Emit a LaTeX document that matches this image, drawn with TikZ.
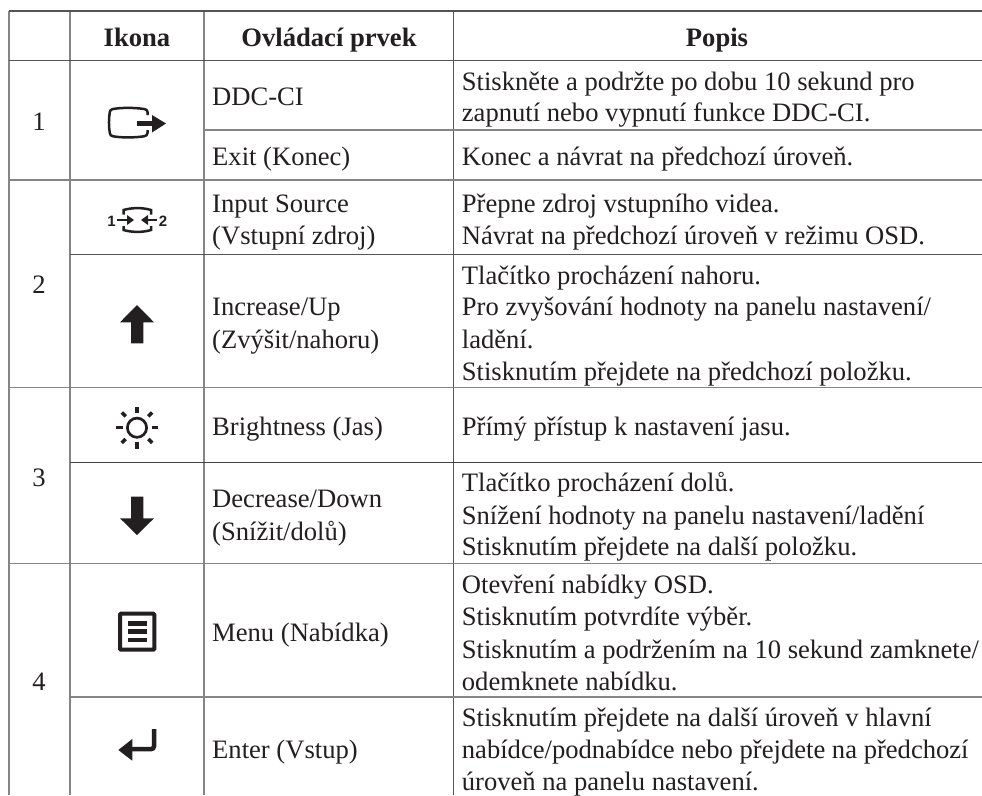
\documentclass[tikz,border=0pt]{standalone}
\usepackage{fontspec}
\setmainfont{Liberation Serif}
\definecolor{rulec}{HTML}{858585}
\definecolor{ruled}{HTML}{555555}
\definecolor{ink}{HTML}{231F20}
\tikzset{x=1pt,y=-1pt,
 rule/.style={draw=rulec,line width=1.3pt},
 ruledark/.style={draw=ruled,line width=1.1pt},
 ruleblack/.style={draw=ink!85,line width=0.9pt},
 txt/.style={anchor=base west,inner sep=0pt,text=ink,font=\fontsize{26.6}{30}\selectfont},
 hd/.style={anchor=base,inner sep=0pt,text=ink,font=\fontsize{26.6}{30}\selectfont\bfseries},
 num/.style={anchor=base,inner sep=0pt,text=ink,font=\fontsize{26.6}{30}\selectfont},
 srcnum/.style={anchor=base,inner sep=0pt,text=ink,font=\fontsize{15}{16}\selectfont\fontspec{Liberation Sans}\bfseries},
 iconline/.style={draw=ink,line width=2.5pt}}
\begin{document}
\begin{tikzpicture}
\useasboundingbox (0,0) rectangle (982,795);
\fill[white] (0,0) rectangle (982,795);
% grid
\draw[rule] (9,11) -- (9,795);
\draw[rule] (70,11) -- (70,795);
\draw[rule] (204,11) -- (204,795);
\draw[ruledark] (453.5,11) -- (453.5,795);
\draw[ruledark] (9,11) -- (982,11);
\draw[ruledark] (9,60.5) -- (982,60.5);
\draw[rule] (204,130) -- (982,130);
\draw[rule] (9,180) -- (982,180);
\draw[ruledark] (70,254.5) -- (982,254.5);
\draw[rule] (9,387.5) -- (982,387.5);
\draw[ruleblack] (70,462.5) -- (982,462.5);
\draw[rule] (9,563.5) -- (982,563.5);
\draw[rule] (70,697) -- (982,697);
% header
\node[hd] (h1) at (137,46.7) {Ikona};
\node[hd] (h2) at (329,46.7) {Ovládací prvek};
\node[hd] (h3) at (717,46.7) {Popis};
% numbers
\node[num] (n1) at (39,130) {1};
\node[num] (n2) at (39,293) {2};
\node[num] (n3) at (39,486) {3};
\node[num] (n4) at (39,690.7) {4};
% controls
\node[txt] (c1) at (212,105.7) {DDC-CI};
\node[txt] (c2) at (212,165.7) {Exit (Konec)};
\node[txt] (c3) at (212,212.3) {Input Source};
\node[txt] (c4) at (212,244.3) {(Vstupní zdroj)};
\node[txt] (c5) at (212,315.7) {Increase/Up};
\node[txt] (c6) at (212,348.3) {(Zvýšit/nahoru)};
\node[txt] (c7) at (212,435.7) {Brightness (Jas)};
\node[txt] (c8) at (212,507.3) {Decrease/Down};
\node[txt] (c9) at (212,540) {(Snížit/dolů)};
\node[txt] (c10) at (212,641.7) {Menu (Nabídka)};
\node[txt] (c11) at (212,758) {Enter (Vstup)};
% descriptions
\node[txt] (d1) at (461.7,90) {Stiskněte a podržte po dobu 10 sekund pro};
\node[txt] (d2) at (461.7,121.7) {zapnutí nebo vypnutí funkce DDC-CI.};
\node[txt] (d3) at (461.7,165.7) {Konec a návrat na předchozí úroveň.};
\node[txt] (d4) at (461.7,212.3) {Přepne zdroj vstupního videa.};
\node[txt] (d5) at (461.7,244.3) {Návrat na předchozí úroveň v režimu OSD.};
\node[txt] (d6) at (461.7,284) {Tlačítko procházení nahoru.};
\node[txt] (d7) at (461.7,315.7) {Pro zvyšování hodnoty na panelu nastavení/};
\node[txt] (d8) at (461.7,348.3) {ladění.};
\node[txt] (d9) at (461.7,380) {Stisknutím přejdete na předchozí položku.};
\node[txt] (d10) at (461.7,435.7) {Přímý přístup k nastavení jasu.};
\node[txt] (d11) at (461.7,491.7) {Tlačítko procházení dolů.};
\node[txt] (d12) at (461.7,524) {Snížení hodnoty na panelu nastavení/ladění};
\node[txt] (d13) at (461.7,555) {Stisknutím přejdete na další položku.};
\node[txt] (d14) at (461.7,593.3) {Otevření nabídky OSD.};
\node[txt] (d15) at (461.7,625.7) {Stisknutím potvrdíte výběr.};
\node[txt] (d16) at (461.7,658.3) {Stisknutím a podržením na 10 sekund zamknete/};
\node[txt] (d17) at (461.7,690) {odemknete nabídku.};
\node[txt] (d18) at (461.7,726.7) {Stisknutím přejdete na další úroveň v hlavní};
\node[txt] (d19) at (461.7,758.3) {nabídce/podnabídce nebo přejdete na předchozí};
\node[txt] (d20) at (461.7,790.7) {úroveň na panelu nastavení.};
% icon 1 exit
\draw[iconline,line join=round] (147.5,115) -- (147.5,112) .. controls (147.5,110) and (146,109.3) .. (144,109)
 .. controls (134,107.5) and (122,107.5) .. (113,109) .. controls (111,109.3) and (110,110.5) .. (109.8,112)
 .. controls (108.7,118) and (108.7,127) .. (109.8,133) .. controls (110,135) and (111,136) .. (113,136.3)
 .. controls (122,137.8) and (134,137.8) .. (144,136.3) .. controls (146,136) and (147.5,135) .. (147.5,133) -- (147.5,130);
\fill[ink] (137,120.8) rectangle (153,126);
\fill[ink] (152,115) -- (166,123.5) -- (152,132.5) -- cycle;
% icon 2 source
\node[srcnum] (s1) at (111.5,226) {1};
\node[srcnum] (s2) at (163,226) {2};
\draw[iconline] (123.5,214.5) -- (123.5,210) .. controls (132,207.5) and (143,207.5) .. (151,210) -- (151,214.5);
\draw[iconline] (123.5,226) -- (123.5,230) .. controls (132,232.5) and (143,232.5) .. (151,230) -- (151,226);
\draw[ink,line width=1.6pt] (117,220) -- (128,220);
\fill[ink] (127,215) -- (134,220) -- (127,225) -- cycle;
\draw[ink,line width=1.6pt] (147,220) -- (157,220);
\fill[ink] (148,215) -- (141,220) -- (148,225) -- cycle;
% icon up
\fill[ink] (137,305) -- (154,322.3) -- (143.3,322.3) -- (143.3,343.3) -- (131,343.3) -- (131,322.3) -- (120,322.3) -- cycle;
% icon sun
\draw[ink,line width=2.7pt] (137,427.7) circle (9.6);
\foreach \a in {0,90,180,270}{\draw[ink,line width=3.5pt] ([shift={(\a:14.5)}]137,427.7) -- ([shift={(\a:21)}]137,427.7);}
\foreach \a in {45,135,225,315}{\draw[ink,line width=3.5pt] ([shift={(\a:16)}]137,427.7) -- ([shift={(\a:21.5)}]137,427.7);}
% icon down
\fill[ink] (137,535) -- (154,518.3) -- (143.3,518.3) -- (143.3,496.7) -- (131,496.7) -- (131,518.3) -- (120,518.3) -- cycle;
% icon menu
\draw[ink,line width=4pt,rounded corners=1pt] (120,613.7) rectangle (154.3,649.7);
\fill[ink] (128,621) rectangle (147,625.7);
\fill[ink] (128,629.3) rectangle (147,634);
\fill[ink] (128,637.7) rectangle (147,642.3);
% icon enter
\draw[ink,line width=4.5pt,rounded corners=3pt] (154,729) -- (154,749.2) -- (130,749.2);
\fill[ink] (118.3,750) -- (132.3,739) -- (132.3,760.7) -- cycle;
\end{tikzpicture}
\end{document}
